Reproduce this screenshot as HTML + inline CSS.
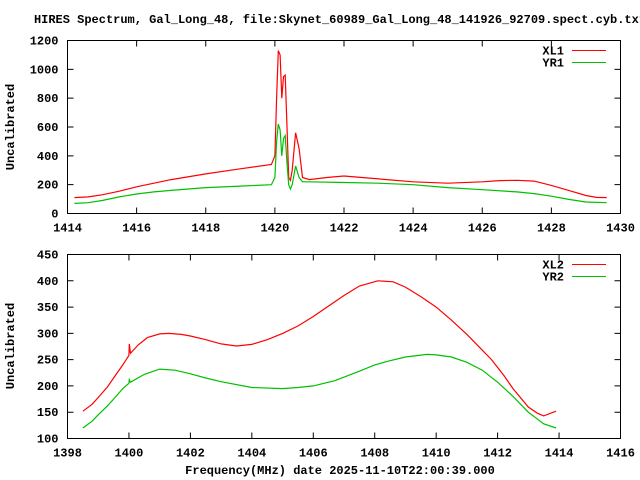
<!DOCTYPE html>
<html><head><meta charset="utf-8"><style>
body{margin:0;background:#fff}
svg{display:block}
text{font-family:"Liberation Mono",monospace;font-size:12px;font-weight:bold;fill:#000}
</style></head><body>
<svg id="c" width="640" height="480" xmlns="http://www.w3.org/2000/svg">
<text x="340" y="23" text-anchor="middle">HIRES Spectrum, Gal_Long_48, file:Skynet_60989_Gal_Long_48_141926_92709.spect.cyb.txt</text>
<text x="14" y="127" text-anchor="middle" transform="rotate(-90 14 127)">Uncalibrated</text>
<text x="14" y="346" text-anchor="middle" transform="rotate(-90 14 346)">Uncalibrated</text>
<text x="340" y="474" text-anchor="middle">Frequency(MHz) date 2025-11-10T22:00:39.000</text>
</svg>
<script>
const topXTicks=[1414,1416,1418,1420,1422,1424,1426,1428,1430];
const topYTicks=[0,200,400,600,800,1000,1200];
const xl1F=[1414.2,1414.6,1415,1415.5,1416,1416.5,1417,1418,1419,1419.9,1420.0,1420.05,1420.1,1420.15,1420.2,1420.25,1420.3,1420.35,1420.4,1420.45,1420.5,1420.6,1420.7,1420.8,1421,1421.5,1422,1423,1424,1425,1426,1426.5,1427,1427.5,1428,1428.5,1429,1429.3,1429.6];
const xl1V=[110,115,130,155,185,210,235,275,310,340,400,800,1130,1100,800,950,960,600,250,230,300,560,450,250,235,250,260,240,220,210,220,228,230,225,195,160,125,112,110];
const yr1F=[1414.2,1414.6,1415,1415.5,1416,1416.5,1417,1418,1419,1419.9,1420.0,1420.05,1420.1,1420.15,1420.2,1420.25,1420.3,1420.35,1420.4,1420.45,1420.5,1420.6,1420.7,1420.8,1421,1422,1423,1424,1425,1426,1427,1427.5,1428,1428.5,1429,1429.6];
const yr1V=[70,75,90,115,135,150,160,180,190,200,250,500,620,580,400,520,540,350,200,170,200,330,250,220,220,215,210,200,180,165,150,138,120,98,80,75];
const botXTicks=[1398,1400,1402,1404,1406,1408,1410,1412,1414,1416];
const botYTicks=[100,150,200,250,300,350,400,450];
const xl2F=[1398.5,1398.8,1399,1399.3,1399.5,1399.8,1400,1400.01,1400.05,1400.3,1400.6,1401,1401.3,1401.7,1402,1402.5,1403,1403.5,1404,1404.5,1405,1405.5,1406,1406.5,1407,1407.5,1408.1,1408.6,1409,1409.5,1410,1410.5,1411,1411.5,1411.8,1412.2,1412.5,1413,1413.3,1413.5,1413.9];
const xl2V=[152,165,178,198,215,240,258,280,262,278,292,299,300,298,295,288,280,276,279,288,300,314,332,352,372,390,400,398,388,370,350,325,298,268,250,220,195,160,148,143,152];
const yr2F=[1398.5,1398.8,1399,1399.3,1399.5,1399.8,1400,1400.01,1400.05,1400.5,1401,1401.5,1402,1402.5,1403,1404,1405,1405.5,1406,1406.7,1407.5,1408,1408.5,1409,1409.7,1410,1410.5,1411,1411.5,1412,1412.5,1413,1413.5,1413.9];
const yr2V=[120,133,145,162,175,195,205,212,207,222,232,230,223,215,208,197,195,197,200,210,228,240,248,255,260,259,255,245,230,207,180,150,128,120];
const NS="http://www.w3.org/2000/svg";
const svg=document.getElementById('c');
function mk(tag,attrs){const e=document.createElementNS(NS,tag);for(const k in attrs)e.setAttribute(k,attrs[k]);svg.appendChild(e);return e;}
function panel(name,x0,x1,y0,y1,xmin,xmax,ymin,ymax,xt,yt,series){
  const sx=v=>x0+(v-xmin)/(xmax-xmin)*(x1-x0);
  const sy=v=>y0-(v-ymin)/(ymax-ymin)*(y0-y1);
  xt.forEach(t=>{const X=sx(t);
    let l=mk('path',{d:`M${X},${y0}v-6M${X},${y1}v6`,stroke:'#000','stroke-width':1});
    
    let tx=mk('text',{x:X,y:y0+18,'text-anchor':'middle'});tx.textContent=t;
    });
  yt.forEach(t=>{const Y=sy(t);
    let l=mk('path',{d:`M${x0},${Y}h6M${x1},${Y}h-6`,stroke:'#000','stroke-width':1});
    
    let tx=mk('text',{x:x0-9,y:Y+4,'text-anchor':'end'});tx.textContent=t;
    });
  series.forEach((s,i)=>{
    const d=s.f.map((f,j)=>(j?'L':'M')+sx(f).toFixed(1)+','+sy(s.v[j]).toFixed(1)).join('');
    let p=mk('path',{d:d,fill:'none',stroke:s.c,'stroke-width':1.2});
    
    const ly=y1+10+i*12;
    let t=mk('text',{x:564,y:ly+4,'text-anchor':'end'});t.textContent=s.n;
    
    let l=mk('path',{d:`M572,${ly}H606`,stroke:s.c,'stroke-width':1});
    
  });
  let r=mk('rect',{x:x0,y:y1,width:x1-x0,height:y0-y1,fill:'none',stroke:'#000','stroke-width':1});
  
}
panel('top',67.5,620.5,213.5,40.5,1414,1430,0,1200,topXTicks,topYTicks,[{n:'XL1',c:'#ff0000',f:xl1F,v:xl1V},{n:'YR1',c:'#00c000',f:yr1F,v:yr1V}]);
panel('bottom',67.5,620.5,438.5,254.5,1398,1416,100,450,botXTicks,botYTicks,[{n:'XL2',c:'#ff0000',f:xl2F,v:xl2V},{n:'YR2',c:'#00c000',f:yr2F,v:yr2V}]);
</script>
</body></html>
